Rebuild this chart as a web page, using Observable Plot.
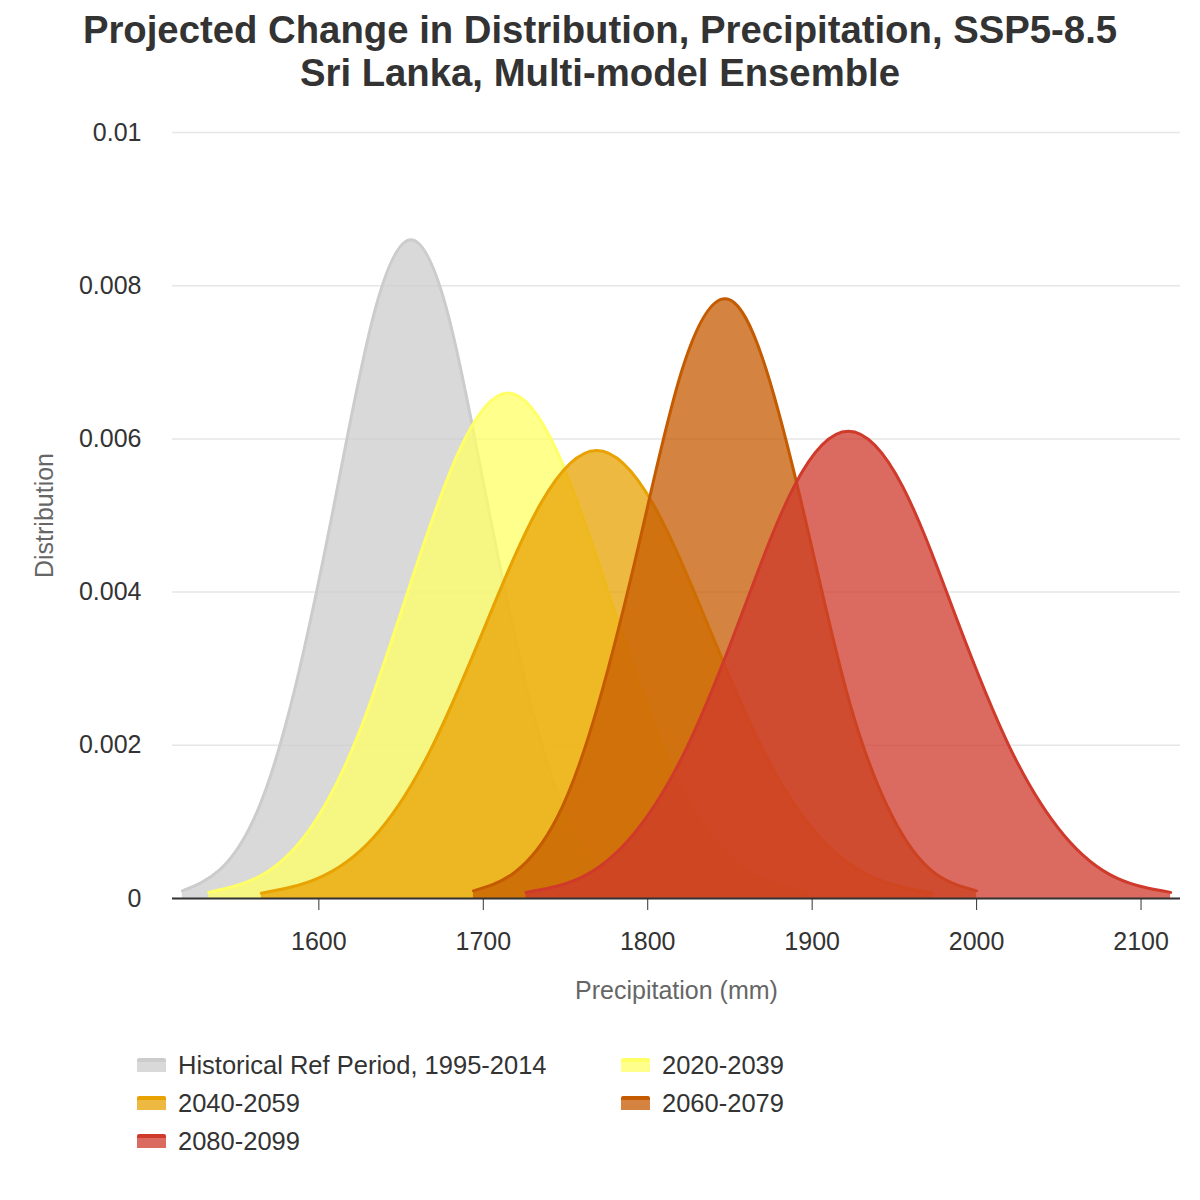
<!DOCTYPE html>
<html>
<head>
<meta charset="utf-8">
<script src="https://cdn.jsdelivr.net/npm/d3@7"></script>
<script src="https://cdn.jsdelivr.net/npm/@observablehq/plot@0.6"></script>
<style>
  body { margin: 0; background: #fff; font-family: "Liberation Sans", Arial, sans-serif; width: 1200px; }
  #title { text-align: center; font-weight: bold; font-size: 38.3px; line-height: 43px; color: #333; padding-top: 8px; height: 81px; box-sizing: content-box; white-space: nowrap; overflow: visible; }
  #legend { display: grid; grid-template-columns: 484px 484px; grid-auto-rows: 38px; margin-left: 137px; margin-top: 28px; }
  .item { display: flex; align-items: center; font-size: 25.5px; color: #333; }
  .sw { width: 29px; height: 14px; margin-right: 12px; box-sizing: border-box; border-top: 4px solid; border-radius: 2px 2px 0 0; }
</style>
</head>
<body>
<div id="title">Projected Change in Distribution, Precipitation, SSP5-8.5<br>Sri Lanka, Multi-model Ensemble</div>
<div id="chart"></div>
<div id="legend"></div>
<script>
const periods = ["Historical Ref Period, 1995-2014", "2020-2039", "2040-2059", "2060-2079", "2080-2099"];
const colors = ["#cccccc", "#ffff66", "#e8a202", "#c55b00", "#cf3a2b"];

const histX = [1517, 1540, 1563, 1586, 1610, 1633, 1656, 1679, 1702, 1726, 1749, 1772, 1795];
const histY = [0.0001, 0.00038, 0.00116, 0.00279, 0.00522, 0.00759, 0.0086, 0.00759, 0.00522, 0.00279, 0.00116, 0.00038, 0.0001];
const p2020X = [1533, 1564, 1594, 1624, 1654, 1685, 1715, 1745, 1776, 1806, 1836, 1866, 1897];
const p2020Y = [0.00008, 0.00029, 0.00089, 0.00214, 0.004, 0.00583, 0.0066, 0.00583, 0.004, 0.00214, 0.00089, 0.00029, 0.00008];
const p2040X = [1565, 1599, 1633, 1667, 1701, 1735, 1769, 1803, 1837, 1871, 1905, 1939, 1973];
const p2040Y = [0.00007, 0.00026, 0.00079, 0.0019, 0.00355, 0.00516, 0.00585, 0.00516, 0.00355, 0.0019, 0.00079, 0.00026, 0.00007];
const p2060X = [1694, 1719, 1745, 1770, 1796, 1821, 1847, 1872, 1898, 1923, 1949, 1974, 2000];
const p2060Y = [0.0001, 0.00034, 0.00106, 0.00254, 0.00475, 0.00691, 0.00783, 0.00691, 0.00475, 0.00254, 0.00106, 0.00034, 0.0001];
const p2080X = [1726, 1759, 1791, 1824, 1857, 1889, 1922, 1955, 1987, 2020, 2053, 2085, 2118];
const p2080Y = [0.00008, 0.00027, 0.00083, 0.00198, 0.0037, 0.00538, 0.0061, 0.00538, 0.0037, 0.00198, 0.00083, 0.00027, 0.00008];

const xTicks = [1600, 1700, 1800, 1900, 2000, 2100];
const yTicks = [0, 0.002, 0.004, 0.006, 0.008, 0.01];
const yTickLabels = ["0", "0.002", "0.004", "0.006", "0.008", "0.01"];

const seriesX = [histX, p2020X, p2040X, p2060X, p2080X];
const seriesY = [histY, p2020Y, p2040Y, p2060Y, p2080Y];
const series = periods.map((p, i) => seriesX[i].map((x, j) => ({period: p, x, y: seriesY[i][j]})));

const marks = [
  Plot.gridY(yTicks, {stroke: "#e6e6e6", strokeOpacity: 1, strokeWidth: 1.5})
];
series.forEach((data, i) => {
  marks.push(Plot.areaY(data, {x: "x", y: "y", fill: colors[i], fillOpacity: 0.75, curve: "natural"}));
  marks.push(Plot.lineY(data, {x: "x", y: "y", stroke: colors[i], strokeWidth: 3, curve: "natural", strokeLinecap: "round"}));
});
marks.push(
  Plot.ruleY([0], {stroke: "#333", strokeWidth: 2}),
  Plot.axisX({ticks: xTicks, tickSize: 12, tickPadding: 22, fontSize: 25, label: null, tickFormat: d => String(d)}),
  Plot.axisY({ticks: yTicks, tickSize: 0, tickPadding: 31, fontSize: 25, label: null, tickFormat: (d, i) => yTickLabels[i]}),
  Plot.text(["Distribution"], {frameAnchor: "left", dx: -128, rotate: -90, textAnchor: "middle", lineAnchor: "middle", fontSize: 25, fill: "#666"}),
  Plot.text(["Precipitation (mm)"], {frameAnchor: "bottom", dy: 92, textAnchor: "middle", lineAnchor: "middle", fontSize: 25, fill: "#666"})
);

const chart = Plot.plot({
  width: 1200,
  height: 929,
  marginTop: 43,
  marginBottom: 120,
  marginLeft: 172,
  marginRight: 20,
  x: {domain: [1511, 2124]},
  y: {domain: [0, 0.01]},
  style: {fontFamily: "'Liberation Sans', Arial, sans-serif", fontSize: "25px", color: "#333", background: "#fff", overflow: "visible"},
  marks
});
document.getElementById("chart").appendChild(chart);

const legend = document.getElementById("legend");
periods.forEach((p, i) => {
  const item = document.createElement("div");
  item.className = "item";
  const sw = document.createElement("div");
  sw.className = "sw";
  const c = d3.color(colors[i]);
  sw.style.borderTopColor = colors[i];
  c.opacity = 0.75;
  sw.style.background = c.formatRgb();
  item.appendChild(sw);
  const t = document.createElement("span");
  t.textContent = p;
  item.appendChild(t);
  legend.appendChild(item);
});
</script>
</body>
</html>
